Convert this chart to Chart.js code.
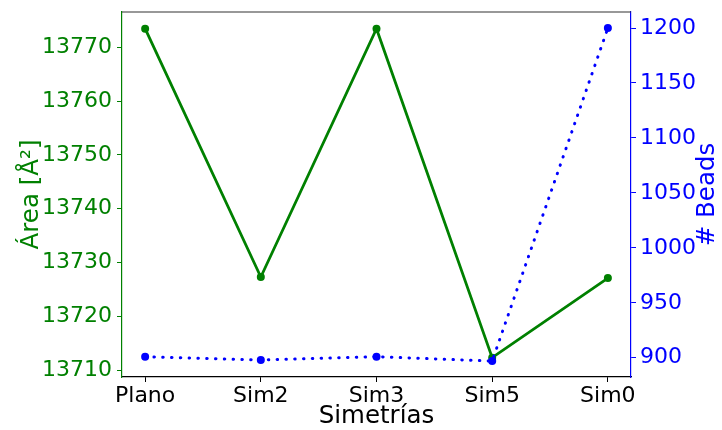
<!DOCTYPE html>
<html>
<head>
<meta charset="utf-8">
<script src="https://cdn.jsdelivr.net/npm/chart.js@4"></script>
<style>
html,body{margin:0;padding:0;background:#fff;}
#wrap{width:722px;height:430px;}
</style>
</head>
<body>
<div id="wrap"><canvas id="c" width="722" height="430"></canvas></div>
<script>
const categories = ["Plano", "Sim2", "Sim3", "Sim5", "Sim0"];
const areaValues = [13773.5, 13727.3, 13773.5, 13712.3, 13727.1];
const beadsValues = [901, 898, 901, 897, 1200];
const areaTicks = [13710, 13720, 13730, 13740, 13750, 13760, 13770];
const beadsTicks = [900, 950, 1000, 1050, 1100, 1150, 1200];
const rightTitle = "# Beads";

const GREEN = "#008000";
const BLUE = "#0000ff";
const FONT = "'DejaVu Sans', sans-serif";
const FS = 22;
const TFS = 24.5;

const framePlugin = {
  id: "frame",
  afterDraw(chart) {
    const a = chart.chartArea;
    const ctx = chart.ctx;
    ctx.save();
    ctx.strokeStyle = "#333333";
    ctx.lineWidth = 1.2;
    ctx.beginPath();
    ctx.moveTo(a.left, a.top);
    ctx.lineTo(a.right, a.top);
    ctx.stroke();
    // right axis title, reading bottom-to-top like matplotlib
    ctx.translate(708, (a.top + a.bottom) / 2);
    ctx.rotate(-Math.PI / 2);
    ctx.fillStyle = BLUE;
    ctx.font = TFS + "px " + FONT;
    ctx.textAlign = "center";
    ctx.textBaseline = "middle";
    ctx.fillText(rightTitle, 0, 0);
    ctx.restore();
  }
};

new Chart(document.getElementById("c"), {
  type: "line",
  data: {
    datasets: [
      {
        label: "# Beads",
        data: beadsValues.map((v, i) => ({ x: i, y: v })),
        yAxisID: "y1",
        borderColor: BLUE,
        backgroundColor: BLUE,
        borderWidth: 3,
        borderDash: [0.5, 8.3],
        borderCapStyle: "round",
        pointRadius: 4,
        pointBorderWidth: 0,
        pointBackgroundColor: BLUE,
        tension: 0
      },
      {
        label: "Área",
        data: areaValues.map((v, i) => ({ x: i, y: v })),
        yAxisID: "y",
        borderColor: GREEN,
        backgroundColor: GREEN,
        borderWidth: 2.8,
        pointRadius: 4,
        pointBorderWidth: 0,
        pointBackgroundColor: GREEN,
        tension: 0
      }
    ]
  },
  options: {
    responsive: false,
    animation: false,
    layout: { padding: { top: 12, left: 0, right: 0, bottom: 0 } },
    plugins: { legend: { display: false }, tooltip: { enabled: false } },
    scales: {
      x: {
        type: "linear",
        min: -0.2,
        max: 4.2,
        afterBuildTicks: (s) => { s.ticks = categories.map((_, i) => ({ value: i })); },
        afterFit: (s) => { s.height = 53; s.paddingLeft = 0; s.paddingRight = 0; },
        ticks: {
          callback: (v) => categories[v],
          color: "#000",
          font: { family: FONT, size: FS },
          padding: 1,
          maxRotation: 0,
          autoSkip: false
        },
        grid: { drawOnChartArea: false, drawTicks: true, tickLength: 5, color: "#000", tickColor: "#000" },
        border: { display: true, color: "#000", width: 1.2 },
        title: { display: true, text: "Simetrías", color: "#000", font: { family: FONT, size: TFS }, padding: { top: 0, bottom: -1 } }
      },
      y: {
        position: "left",
        min: 13708.7,
        max: 13776.6,
        afterBuildTicks: (s) => { s.ticks = areaTicks.map(v => ({ value: v })); },
        afterFit: (s) => { s.width = 122; s.paddingTop = 0; s.paddingBottom = 0; },
        ticks: { color: GREEN, font: { family: FONT, size: FS }, padding: 5, callback: (v) => String(v) },
        grid: { drawOnChartArea: false, drawTicks: true, tickLength: 5, color: GREEN, tickColor: GREEN },
        border: { display: true, color: GREEN, width: 1.2 },
        title: { display: true, text: "Área [Å²]", color: GREEN, font: { family: FONT, size: TFS }, padding: { top: 17, bottom: 0 } }
      },
      y1: {
        position: "right",
        min: 882.5,
        max: 1214.6,
        afterBuildTicks: (s) => { s.ticks = beadsTicks.map(v => ({ value: v })); },
        afterFit: (s) => { s.width = 91; s.paddingTop = 0; s.paddingBottom = 0; },
        ticks: { color: BLUE, font: { family: FONT, size: FS }, padding: 4, callback: (v) => String(v) },
        grid: { drawOnChartArea: false, drawTicks: true, tickLength: 5, color: BLUE, tickColor: BLUE },
        border: { display: true, color: BLUE, width: 1.2 },
        title: { display: false }
      }
    }
  },
  plugins: [framePlugin]
});
</script>
</body>
</html>
